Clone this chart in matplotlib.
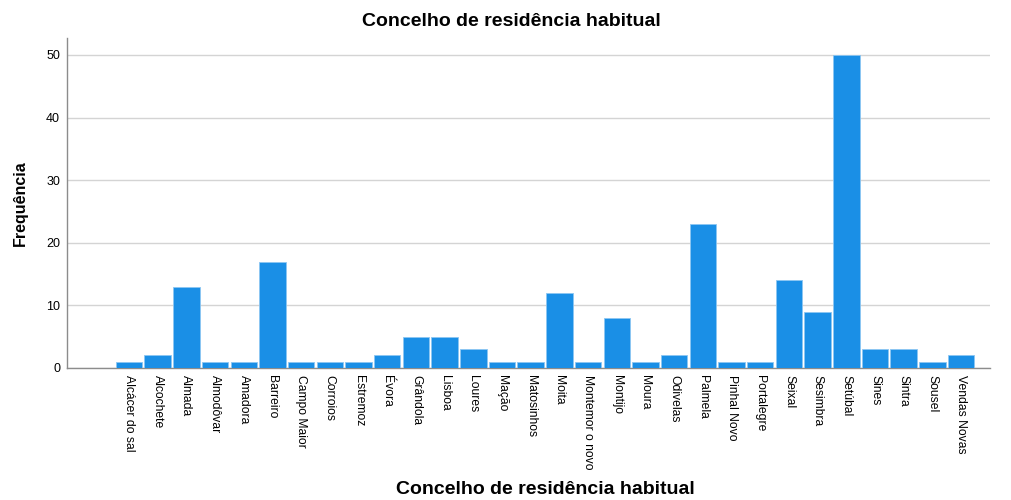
import matplotlib
matplotlib.use("Agg")
import matplotlib.pyplot as plt
import numpy as np

plt.rcParams["font.family"] = ["Liberation Sans", "DejaVu Sans"]

categories = [
    "Alcácer do sal", "Alcochete", "Almada", "Almodôvar", "Amadora", "Barreiro",
    "Campo Maior", "Corroios", "Estremoz", "Évora", "Grândola", "Lisboa", "Loures",
    "Mação", "Matosinhos", "Moita", "Montemor o novo", "Montijo", "Moura",
    "Odivelas", "Palmela", "Pinhal Novo", "Portalegre", "Seixal", "Sesimbra",
    "Setúbal", "Sines", "Sintra", "Sousel", "Vendas Novas",
]
counts = [1, 2, 13, 1, 1, 17, 1, 1, 1, 2, 5, 5, 3, 1, 1, 12, 1, 8, 1, 2,
          23, 1, 1, 14, 9, 50, 3, 3, 1, 2]
y_ticks = [0, 10, 20, 30, 40, 50]

BAR = "#1A8FE6"
AXIS = "#8C8C8C"
GRID = "#D4D4D4"

fig = plt.figure(figsize=(10.11, 5.0), dpi=100)
ax = fig.add_axes([0.0663, 0.264, 0.9127, 0.660])

x = np.arange(len(categories))
ax.bar(x, counts, width=0.92, color=BAR, edgecolor="#8CC6F2", linewidth=0.6, zorder=3)

ax.set_xlim(-2.16, 30.0)
ax.set_ylim(0, 52.7)
ax.set_yticks(y_ticks)
ax.set_yticklabels([str(v) for v in y_ticks], fontsize=9)
ax.set_xticks(x)
ax.set_xticklabels(categories, rotation=270, fontsize=8.7, va="top", ha="center")
ax.tick_params(axis="both", length=0, pad=5, colors="black")
ax.grid(axis="y", color=GRID, linewidth=1.0, zorder=0)

for side in ["top", "right"]:
    ax.spines[side].set_visible(False)
for side in ["left", "bottom"]:
    ax.spines[side].set_color(AXIS)
    ax.spines[side].set_linewidth(1.0)

ax.set_ylabel("Frequência", fontsize=11.5, fontweight="bold", labelpad=13)
fig.text(0.506, 0.958, "Concelho de residência habitual", fontsize=14,
         fontweight="bold", ha="center", va="center")
fig.text(0.539, 0.02, "Concelho de residência habitual", fontsize=14,
         fontweight="bold", ha="center", va="center")

fig.savefig("out.png", dpi=100)
